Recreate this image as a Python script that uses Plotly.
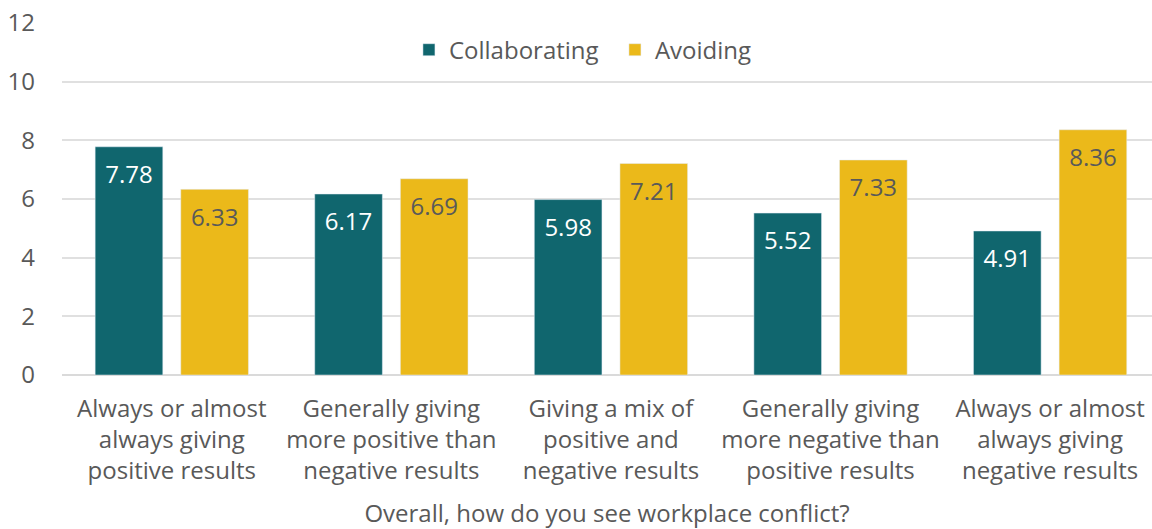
import plotly.graph_objects as go

categories = [
    "Always or almost<br>always giving<br>positive results",
    "Generally giving<br>more positive than<br>negative results",
    "Giving a mix of<br>positive and<br>negative results",
    "Generally giving<br>more negative than<br>positive results",
    "Always or almost<br>always giving<br>negative results",
]
collaborating = [7.78, 6.17, 5.98, 5.52, 4.91]
avoiding = [6.33, 6.69, 7.21, 7.33, 8.36]

TEAL = "#10666E"
GOLD = "#EBB91A"
GRAY = "#595959"
FONT = "Open Sans"
LABEL_TPL = "&nbsp;<br><span style='font-size:24px'>%{y:.2f}</span>"

fig = go.Figure()
fig.add_trace(go.Bar(
    name="Collaborating", x=categories, y=collaborating,
    marker=dict(color=TEAL),
    texttemplate=LABEL_TPL, textposition="inside", insidetextanchor="end",
    textfont=dict(color="white", size=14, family=FONT),
    hoverinfo="skip",
))
fig.add_trace(go.Bar(
    name="Avoiding", x=categories, y=avoiding,
    marker=dict(color=GOLD),
    texttemplate=LABEL_TPL, textposition="inside", insidetextanchor="end",
    textfont=dict(color=GRAY, size=14, family=FONT),
    hoverinfo="skip",
))

fig.update_layout(
    width=1152, height=529,
    margin=dict(l=62, r=0, t=23, b=154),
    paper_bgcolor="white", plot_bgcolor="white",
    font=dict(family=FONT, color=GRAY, size=24),
    barmode="group", bargap=0.22, bargroupgap=0.21,
    uniformtext=dict(mode=False),
    legend=dict(orientation="h", x=0.3183, xanchor="left", y=0.923, yanchor="middle",
                font=dict(size=24, color=GRAY), bgcolor="rgba(0,0,0,0)",
                entrywidth=161, traceorder="normal"),
    xaxis=dict(
        title=dict(text="Overall, how do you see workplace conflict?", font=dict(size=24, color=GRAY), standoff=21),
        tickfont=dict(size=24, color=GRAY), showgrid=False, showline=False, ticks="",
        ticklabelstandoff=17, automargin=False, range=[-0.5, 4.464],
    ),
    yaxis=dict(
        range=[0, 12], dtick=2, showgrid=True, gridcolor="#E0E0E0", gridwidth=1.5,
        zeroline=True, zerolinecolor="#DADADA", zerolinewidth=2,
        tickfont=dict(size=24, color=GRAY), ticks="", ticklabelstandoff=26,
        ticklabeloverflow="allow", automargin=False,
    ),
)

fig.write_html("out.html", config={"displayModeBar": False},
               post_script="document.body.style.margin='0';document.body.style.overflow='hidden';")
